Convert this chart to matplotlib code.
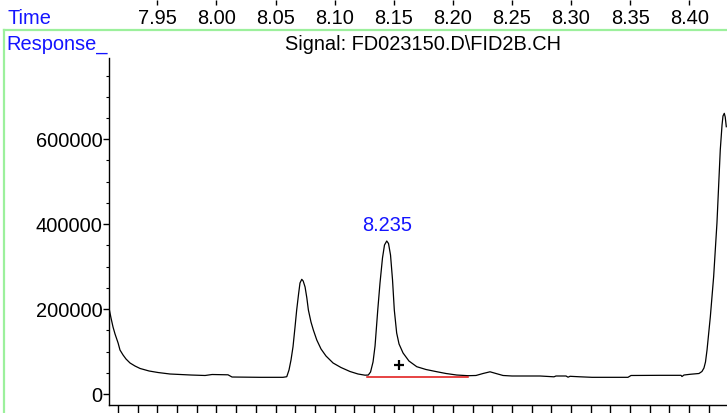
import matplotlib
matplotlib.use("Agg")
import matplotlib.pyplot as plt
from matplotlib.lines import Line2D
from matplotlib.ticker import MultipleLocator

# ---- data (time in min, response in counts) ----
time_min = [
    7.9091, 7.9108, 7.9125, 7.9142, 7.9168, 7.9184, 7.9210, 7.9235, 7.9269, 7.9311,
    7.9354, 7.9430, 7.9506, 7.9607, 7.9785, 7.9904, 7.9963, 8.0098, 8.0132, 8.0369,
    8.0563, 8.0595, 8.0614, 8.0631, 8.0648, 8.0665, 8.0679, 8.0695, 8.0707, 8.0722,
    8.0734, 8.0750, 8.0765, 8.0778, 8.0800, 8.0820, 8.0849, 8.0885, 8.0927, 8.0987,
    8.1054, 8.1130, 8.1198, 8.1257, 8.1285, 8.1304, 8.1325, 8.1342, 8.1365, 8.1384,
    8.1405, 8.1422, 8.1441, 8.1456, 8.1473, 8.1490, 8.1505, 8.1525, 8.1545, 8.1579,
    8.1629, 8.1695, 8.1773, 8.1864, 8.1942, 8.2033, 8.2129, 8.2196, 8.2256, 8.2315,
    8.2365, 8.2425, 8.2501, 8.2738, 8.2856, 8.2873, 8.2958, 8.2975, 8.2992, 8.3076,
    8.3178, 8.3482, 8.3508, 8.3753, 8.3931, 8.3939, 8.3956, 8.4007, 8.4083, 8.4108,
    8.4125, 8.4138, 8.4151, 8.4179, 8.4207, 8.4235, 8.4263, 8.4278, 8.4286, 8.4297,
    8.4305, 8.4314,
]
response = [
    202500, 179000, 157800, 141300, 120100, 103600, 91800, 82400, 73000, 65900,
    60100, 54200, 50600, 47100, 44700, 43600, 45900, 45200, 40000, 39300,
    39300, 40700, 56500, 80100, 111400, 157800, 197800, 235500, 261400, 270100,
    266100, 252000, 226100, 197800, 169600, 150700, 127200, 106000, 89500, 73000,
    62400, 53000, 47100, 44300, 44700, 51800, 75400, 113000, 197800, 261400,
    320300, 350900, 360300, 354400, 327300, 268500, 197800, 143700, 117800, 96600,
    77700, 64300, 57700, 52500, 48300, 44700, 43100, 43600, 48300, 52300,
    48300, 43600, 42400, 42400, 40500, 42400, 42400, 39600, 41700, 40500,
    39300, 39300, 43600, 44000, 44000, 41200, 44700, 46400, 48300, 53000,
    61200, 75400, 103600, 182000, 276200, 402700, 574600, 633500, 654700, 661000,
    652300, 629500,
]
baseline_time = [8.1271, 8.2130]
baseline_resp = [39300, 39300]
peak_label = "8.235"
peak_label_time = 8.1441
peak_label_resp = 398000
cross_time = 8.1545
cross_resp = 68300
top_ticks = [7.95, 8.00, 8.05, 8.10, 8.15, 8.20, 8.25, 8.30, 8.35, 8.40]
top_tick_labels = ["7.95", "8.00", "8.05", "8.10", "8.15", "8.20", "8.25", "8.30", "8.35", "8.40"]
y_ticks = [0, 200000, 400000, 600000]
y_tick_labels = ["0", "200000", "400000", "600000"]
title = "Signal: FD023150.D\\FID2B.CH"

plt.rcParams['font.family'] = ['Liberation Sans', 'DejaVu Sans']

W, H = 727, 413
fig = plt.figure(figsize=(W / 100, H / 100), dpi=100)
FS = 14.4
BLUE = '#1414ff'
GREEN = '#9cf09c'

XLIM = (7.9091, 8.4320)
x0, x1 = 109, 727
y_top, y_bot = 58, 405

ax = fig.add_axes([x0 / W, 1 - y_bot / H, (x1 - x0) / W, (y_bot - y_top) / H])
ax.set_xlim(*XLIM)
ax.set_ylim(-25900, 791300)
ax.plot(time_min, response, color='black', lw=0.9, solid_joinstyle='round')
ax.plot(baseline_time, baseline_resp, color='#e01010', lw=1.1)
ax.plot([cross_time], [cross_resp], marker='+', color='black', ms=7.5, mew=1.6, ls='none')
ax.text(peak_label_time, peak_label_resp, peak_label, color=BLUE, fontsize=FS,
        ha='center', va='center')

for s in ['top', 'right']:
    ax.spines[s].set_visible(False)
for s in ['left', 'bottom']:
    ax.spines[s].set_linewidth(1.0)

ax.set_yticks(y_ticks)
ax.set_yticklabels(y_tick_labels)
ax.yaxis.set_minor_locator(MultipleLocator(50000))
ax.tick_params(axis='y', which='major', direction='out', length=4.3, width=1.0,
               labelsize=FS, pad=0.5)
ax.tick_params(axis='y', which='minor', direction='out', length=2.0, width=0.8)

# bottom ticks: one per second
sec_ticks = [7.95 + k / 60 for k in range(-2, 30) if XLIM[0] <= 7.95 + k / 60 <= XLIM[1]]
ax.set_xticks(sec_ticks)
ax.tick_params(axis='x', which='major', direction='out', length=6, width=1.0,
               labelbottom=False)

# top time scale strip
axt = fig.add_axes([x0 / W, 1 - 5 / H, (x1 - x0) / W, 5 / H])
axt.set_xlim(*XLIM)
axt.set_ylim(0, 1)
for s in axt.spines.values():
    s.set_visible(False)
axt.set_yticks([])
axt.set_xticks(top_ticks)
axt.set_xticklabels(top_tick_labels)
axt.tick_params(axis='x', direction='in', length=3.6, width=1.0, labelsize=FS, pad=3.2)
axt.patch.set_visible(False)

# header texts and green frame lines
fig.add_artist(Line2D([4 / W, 1], [1 - 30 / H, 1 - 30 / H], transform=fig.transFigure,
                      color=GREEN, lw=1.6))
fig.add_artist(Line2D([4 / W, 4 / W], [0, 1 - 30 / H], transform=fig.transFigure,
                      color=GREEN, lw=1.6))
fig.text(7 / W, 1 - 24 / H, "Time", color=BLUE, fontsize=FS, ha='left', va='baseline')
fig.text(6 / W, 1 - 50 / H, "Response_", color=BLUE, fontsize=FS, ha='left', va='baseline')
fig.text(423 / W, 1 - 50 / H, title, color='black', fontsize=FS, ha='center', va='baseline')

fig.savefig("out.png", dpi=100)
